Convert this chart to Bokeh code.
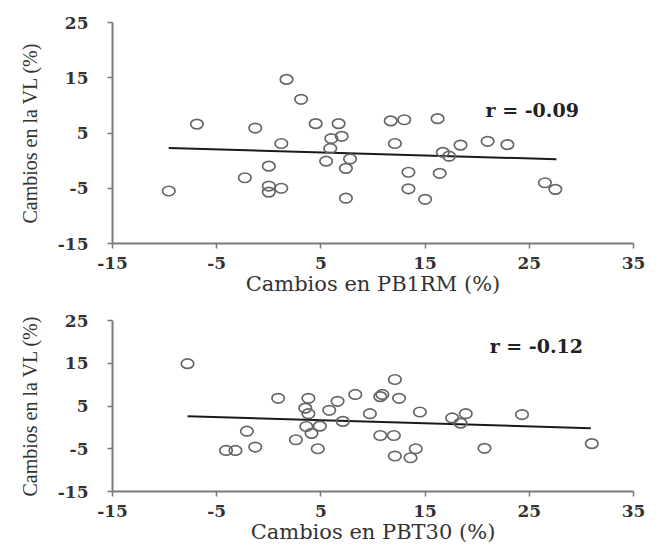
from bokeh.plotting import figure
from bokeh.models import Range1d, FixedTicker, Label
from bokeh.layouts import column
from bokeh.embed import file_html
from bokeh.resources import INLINE

# ---- data ----
x_ticks = [-15, -5, 5, 15, 25, 35]
y_ticks = [-15, -5, 5, 15, 25]

top_x = [-9.6, -6.9, -1.3, 1.7, 3.1, 4.5, 6.7, 1.2, 0.0, -2.3, 0.0, 0.0, 1.2, 6.0,
         7.0, 5.9, 5.5, 7.8, 7.4, 7.4, 11.7, 12.1, 13.0, 16.2, 13.4, 13.4, 15.0,
         16.4, 16.7, 17.3, 18.4, 21.0, 22.9, 26.5, 27.5]
top_y = [-5.5, 6.6, 5.9, 14.7, 11.1, 6.7, 6.7, 3.1, -1.0, -3.1, -4.6, -5.7, -5.0, 4.0,
         4.4, 2.2, -0.1, 0.3, -1.4, -6.8, 7.2, 3.1, 7.4, 7.6, -2.1, -5.1, -7.0,
         -2.3, 1.5, 0.8, 2.8, 3.5, 2.9, -4.0, -5.2]
top_fit_x = [-9.6, 27.6]
top_fit_y = [2.3, 0.25]
top_r = "r = -0.09"

bot_x = [-7.8, 0.9, 3.8, 3.5, 3.8, 5.8, 6.6, 8.3, 10.7, 10.9, 12.1, 12.5, -2.1, -4.1,
         -3.2, -1.3, 2.6, 3.6, 4.1, 4.9, 4.7, 7.1, 9.7, 10.7, 12.0, 12.1, 13.6, 14.1,
         14.5, 17.6, 18.9, 18.4, 20.7, 24.3, 31.0]
bot_y = [14.9, 6.8, 6.8, 4.5, 3.2, 4.0, 6.1, 7.7, 7.2, 7.7, 11.2, 6.8, -0.9, -5.4,
         -5.4, -4.6, -2.9, 0.2, -1.4, 0.3, -5.0, 1.4, 3.2, -1.9, -1.9, -6.7, -7.1, -5.0,
         3.6, 2.2, 3.2, 1.0, -4.9, 3.0, -3.8]
bot_fit_x = [-7.8, 30.9]
bot_fit_y = [2.6, -0.2]
bot_r = "r = -0.12"

x_title_top = "Cambios en PB1RM (%)"
x_title_bot = "Cambios en PBT30 (%)"
y_title = "Cambios en la VL (%)"

H_FONT = "DejaVu Serif"
V_FONT = "Liberation Serif"
AXIS_COLOR = "#7a7a7a"
POINT_COLOR = "#666666"


def panel(xs, ys, fx, fy, rtext, rx, ry, xtitle, height, bl, br, bt, bb):
    p = figure(width=658, height=height, output_backend="svg", toolbar_location=None,
               x_range=Range1d(-15, 35), y_range=Range1d(-15, 25),
               min_border_left=bl, min_border_right=br,
               min_border_top=bt, min_border_bottom=bb)
    p.outline_line_color = None
    p.xgrid.visible = False
    p.ygrid.visible = False
    p.background_fill_color = "white"
    p.border_fill_color = "white"

    for ax, ticks in ((p.xaxis[0], x_ticks), (p.yaxis[0], y_ticks)):
        ax.ticker = FixedTicker(ticks=ticks)
        ax.major_label_overrides = {t: str(t) for t in ticks}
        ax.minor_tick_line_color = None
        ax.major_tick_in = 0
        ax.major_tick_out = 5
        ax.axis_line_color = AXIS_COLOR
        ax.axis_line_width = 2
        ax.major_tick_line_color = AXIS_COLOR
        ax.major_tick_line_width = 1.5
        ax.major_label_text_font = H_FONT
        ax.major_label_text_font_style = "bold"
        ax.major_label_text_font_size = "17px"
        ax.major_label_text_color = "#333333"
        ax.axis_label_text_font_style = "normal"
        ax.axis_label_text_color = "#333333"

    p.xaxis.axis_label = xtitle
    p.xaxis.axis_label_text_font = H_FONT
    p.xaxis.axis_label_text_font_size = "21px"
    p.xaxis.major_label_standoff = 8
    p.xaxis.axis_label_standoff = 0

    p.yaxis.axis_label = y_title
    p.yaxis.axis_label_text_font = V_FONT
    p.yaxis.axis_label_text_font_size = "20px"
    p.yaxis.major_label_standoff = 19
    p.yaxis.axis_label_standoff = 14

    p.line(fx, fy, line_color="#1a1a1a", line_width=2)
    p.ellipse(x=xs, y=ys, width=12.5, height=9.5, width_units="screen",
              height_units="screen", fill_color=None, line_color=POINT_COLOR,
              line_width=1.7)

    p.add_layout(Label(x=rx, y=ry, text=rtext, text_font=H_FONT,
                       text_font_style="bold", text_font_size="19px",
                       text_color="#222222", text_baseline="alphabetic",
                       text_align="left"))
    return p


p1 = panel(top_x, top_y, top_fit_x, top_fit_y, top_r, 20.8, 9.1, x_title_top,
           300, 107, 19, 22, 57)
p2 = panel(bot_x, bot_y, bot_fit_x, bot_fit_y, bot_r, 21.2, 19.15, x_title_bot,
           252, 112, 25, 20, 61)

layout = column(p1, p2, spacing=0)
open("out.html", "w").write(file_html(layout, INLINE))
